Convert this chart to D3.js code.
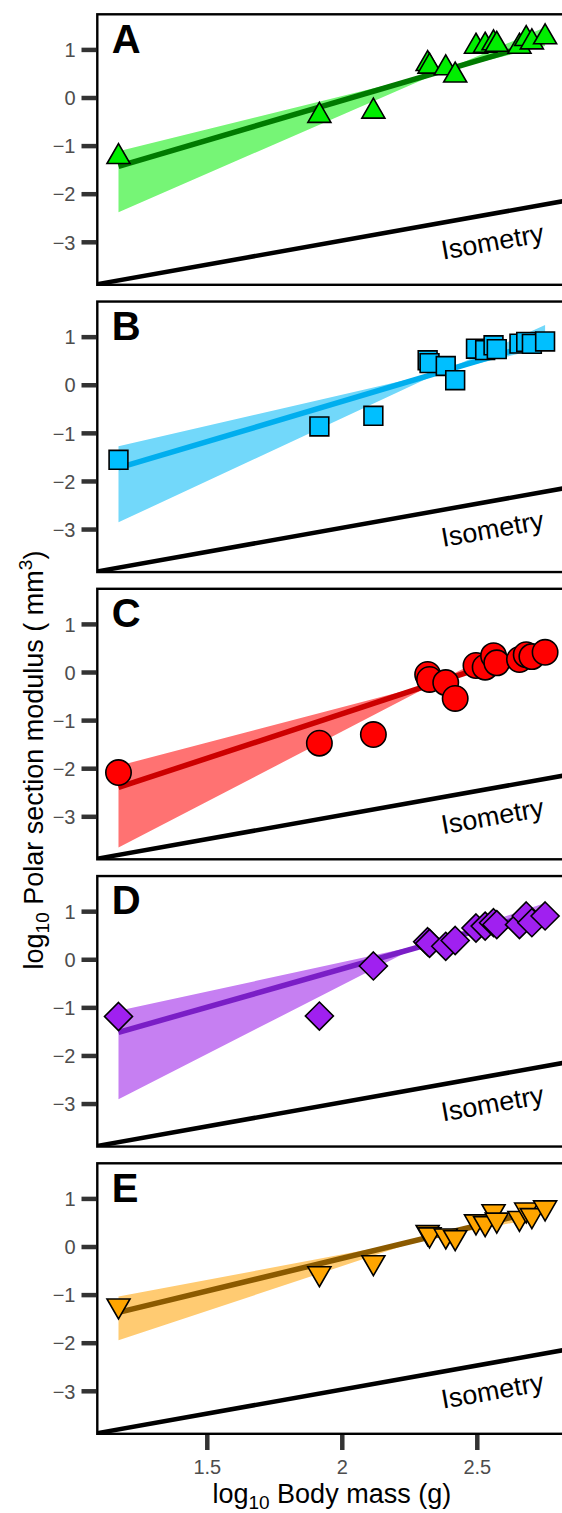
<!DOCTYPE html>
<html><head><meta charset="utf-8">
<script src="https://cdn.jsdelivr.net/npm/d3@7"></script>
<style>html,body{margin:0;padding:0;background:#fff;} svg{display:block;}</style>
</head><body>
<svg id="chart" width="562" height="1513"></svg>
<script>
// ---------- data ----------
const mass = [1.173, 1.917, 2.117, 2.318, 2.325, 2.385, 2.420, 2.497, 2.531, 2.562, 2.574, 2.658, 2.683, 2.704, 2.753];
const valuesA = [-1.235, -0.378, -0.29, 0.70, 0.645, 0.61, 0.46, 1.06, 1.08, 1.13, 1.10, 1.06, 1.22, 1.15, 1.255];
const valuesB = [-1.56, -0.867, -0.645, 0.51, 0.45, 0.39, 0.095, 0.75, 0.72, 0.82, 0.74, 0.855, 0.89, 0.85, 0.90];
const valuesC = [-2.09, -1.48, -1.30, -0.052, -0.155, -0.22, -0.55, 0.135, 0.10, 0.34, 0.19, 0.26, 0.36, 0.32, 0.41];
const valuesD = [-1.19, -1.18, -0.14, 0.365, 0.33, 0.27, 0.39, 0.65, 0.69, 0.76, 0.72, 0.72, 0.90, 0.76, 0.90];
const valuesE = [-1.23, -0.56, -0.33, 0.295, 0.25, 0.225, 0.19, 0.52, 0.48, 0.73, 0.556, 0.59, 0.765, 0.65, 0.81];

// fitted lines (x ends, y ends)
const fitXA = [1.173, 2.753], fitYA = [-1.43, 1.177];
const fitXB = [1.173, 2.753], fitYB = [-1.73, 0.91];
const fitXC = [1.173, 2.60],  fitYC = [-2.40, 0.24];
const fitXD = [1.173, 2.753], fitYD = [-1.52, 1.00];
const fitXE = [1.173, 2.66],  fitYE = [-1.37, 0.65];

// confidence bands (x, lower, upper)
const bandXA = [1.173, 2.37, 2.753], bandLoA = [-2.384, 0.54, 1.07], bandHiA = [-1.118, 0.54, 1.46];
const bandXB = [1.173, 2.37, 2.753], bandLoB = [-2.86, 0.27, 0.77],  bandHiB = [-1.28, 0.27, 1.24];
const bandXC = [1.173, 2.35, 2.60],  bandLoC = [-3.65, -0.22, 0.16], bandHiC = [-1.95, -0.22, 0.50];
const bandXD = [1.173, 2.29, 2.753], bandLoD = [-2.91, 0.29, 0.80],  bandHiD = [-1.07, 0.29, 1.17];
const bandXE = [1.173, 2.30, 2.64],  bandLoE = [-1.95, 0.15, 0.50],  bandHiE = [-1.04, 0.15, 0.72];

const isoSlope = 1, isoIntercept = -4.975;

const panelLetters = ["A", "B", "C", "D", "E"];
const xTicks = [1.5, 2, 2.5];
const xTickLabels = ["1.5", "2", "2.5"];
const yTicks = [-3, -2, -1, 0, 1];
const yTickLabels = ["\u22123", "\u22122", "\u22121", "0", "1"];

// ---------- styles ----------
const shapes = ["triUp", "square", "circle", "diamond", "triDown"];
const pointFill = ["#00ee00", "#00bfff", "#ff0000", "#a020f0", "#ffa500"];
const bandFill  = ["#76f576", "#72d8fa", "#ff7272", "#c67ff2", "#ffcb72"];
const lineCol   = ["#007a00", "#00aeee", "#cc0000", "#7a1ec6", "#8b5a00"];

const panels = [
  {y: valuesA, fx: fitXA, fy: fitYA, bx: bandXA, lo: bandLoA, hi: bandHiA},
  {y: valuesB, fx: fitXB, fy: fitYB, bx: bandXB, lo: bandLoB, hi: bandHiB},
  {y: valuesC, fx: fitXC, fy: fitYC, bx: bandXC, lo: bandLoC, hi: bandHiC},
  {y: valuesD, fx: fitXD, fy: fitYD, bx: bandXD, lo: bandLoD, hi: bandHiD},
  {y: valuesE, fx: fitXE, fy: fitYE, bx: bandXE, lo: bandLoE, hi: bandHiE}
];

const svg = d3.select("#chart");
const FONT = "'Liberation Sans', Arial, Helvetica, sans-serif";
const left = 97.3, right = 566.3;
const panelH = 270.5, panelStep = 287.25, firstTop = 14.3;

const x = d3.scaleLinear().domain([1.0945, 2.8315]).range([left, right]);

function markerPath(shape) {
  const p = d3.path();
  if (shape === "triUp") {
    const r = 13.3;
    p.moveTo(0, -r); p.lineTo(r * 0.866, r / 2); p.lineTo(-r * 0.866, r / 2); p.closePath();
  } else if (shape === "triDown") {
    const r = 13.3;
    p.moveTo(0, r); p.lineTo(r * 0.866, -r / 2); p.lineTo(-r * 0.866, -r / 2); p.closePath();
  } else if (shape === "square") {
    const h = 9.4;
    p.rect(-h, -h, 2 * h, 2 * h);
  } else if (shape === "circle") {
    p.arc(0, 0, 12.7, 0, 2 * Math.PI); p.closePath();
  } else {
    const h = 14;
    p.moveTo(0, -h); p.lineTo(h, 0); p.lineTo(0, h); p.lineTo(-h, 0); p.closePath();
  }
  return p.toString();
}

panels.forEach((pd, i) => {
  const top = firstTop + i * panelStep;
  const y = d3.scaleLinear().domain([-3.894, 1.730]).range([top + panelH, top]);
  const g = svg.append("g");
  const clipId = "clip" + i;
  svg.append("clipPath").attr("id", clipId)
    .append("rect").attr("x", left).attr("y", top).attr("width", right - left).attr("height", panelH);

  const body = g.append("g").attr("clip-path", `url(#${clipId})`);

  // band
  const bandData = pd.bx.map((v, k) => ({x: v, lo: pd.lo[k], hi: pd.hi[k]}));
  body.append("path").datum(bandData)
    .attr("d", d3.area().x(d => x(d.x)).y0(d => y(d.lo)).y1(d => y(d.hi)))
    .attr("fill", bandFill[i]);

  // fit line
  const fitData = pd.fx.map((v, k) => ({x: v, y: pd.fy[k]}));
  body.append("path").datum(fitData)
    .attr("d", d3.line().x(d => x(d.x)).y(d => y(d.y)))
    .attr("stroke", lineCol[i]).attr("stroke-width", 5.5).attr("fill", "none");

  // isometry line
  const xd = x.domain();
  const isoData = xd.map(v => ({x: v, y: isoSlope * v + isoIntercept}));
  body.append("path").datum(isoData)
    .attr("d", d3.line().x(d => x(d.x)).y(d => y(d.y)))
    .attr("stroke", "#000").attr("stroke-width", 4.5).attr("fill", "none");

  // isometry label
  const ang = Math.atan2(y(isoData[1].y) - y(isoData[0].y), x(isoData[1].x) - x(isoData[0].x)) * 180 / Math.PI;
  const lx = 2.564, ly = -3.187;
  g.append("text")
    .attr("transform", `translate(${x(lx)},${y(ly)}) rotate(${ang})`)
    .attr("text-anchor", "middle")
    .attr("font-family", FONT).attr("font-size", 27).attr("fill", "#000")
    .text("Isometry");

  // points
  g.append("g").selectAll("path").data(mass.map((m, k) => ({x: m, y: pd.y[k]})))
    .join("path")
    .attr("transform", d => `translate(${x(d.x)},${y(d.y)})`)
    .attr("d", markerPath(shapes[i]))
    .attr("fill", pointFill[i]).attr("stroke", "#000").attr("stroke-width", 1.6)
    .attr("stroke-linejoin", "miter");

  // border
  g.append("rect").attr("x", left).attr("y", top).attr("width", right - left).attr("height", panelH)
    .attr("fill", "none").attr("stroke", "#000").attr("stroke-width", 2.4);

  // panel letter
  g.append("text").attr("x", left + 14.4).attr("y", top + 38.4)
    .attr("font-family", FONT).attr("font-size", 40).attr("font-weight", "bold").attr("fill", "#000")
    .text(panelLetters[i]);

  // y axis
  const yAxis = d3.axisLeft(y).tickValues(yTicks).tickFormat((d, k) => yTickLabels[k])
    .tickSize(14.6).tickPadding(6);
  const ya = g.append("g").attr("transform", `translate(${left - 1.2},0)`).call(yAxis);
  ya.select(".domain").remove();
  ya.selectAll(".tick line").attr("stroke", "#333").attr("stroke-width", 4.5);
  ya.selectAll(".tick text").attr("font-family", FONT).attr("font-size", 20).attr("fill", "#4d4d4d")
    .attr("dy", "0.36em");

  if (i === panels.length - 1) {
    const xAxis = d3.axisBottom(x).tickValues(xTicks).tickFormat((d, k) => xTickLabels[k])
      .tickSize(15).tickPadding(10);
    const xa = g.append("g").attr("transform", `translate(0,${top + panelH + 1.2})`).call(xAxis);
    xa.select(".domain").remove();
    xa.selectAll(".tick line").attr("stroke", "#333").attr("stroke-width", 4.5);
    xa.selectAll(".tick text").attr("font-family", FONT).attr("font-size", 20).attr("fill", "#4d4d4d");
  }
});

// axis titles
const xt = svg.append("text").attr("x", (left + right) / 2).attr("y", 1503)
  .attr("text-anchor", "middle").attr("font-family", FONT).attr("font-size", 27).attr("fill", "#000");
xt.append("tspan").text("log");
xt.append("tspan").attr("font-size", 19).attr("dy", 6).text("10");
xt.append("tspan").attr("dy", -6).text(" Body mass (g)");

const yt = svg.append("text").attr("transform", "translate(43,760) rotate(-90)")
  .attr("text-anchor", "middle").attr("font-family", FONT).attr("font-size", 27).attr("fill", "#000");
yt.append("tspan").text("log");
yt.append("tspan").attr("font-size", 19).attr("dy", 6).text("10");
yt.append("tspan").attr("dy", -6).text(" Polar section modulus ( mm");
yt.append("tspan").attr("font-size", 19).attr("dy", -11).text("3");
yt.append("tspan").attr("dy", 11).text(")");
</script>
</body></html>
